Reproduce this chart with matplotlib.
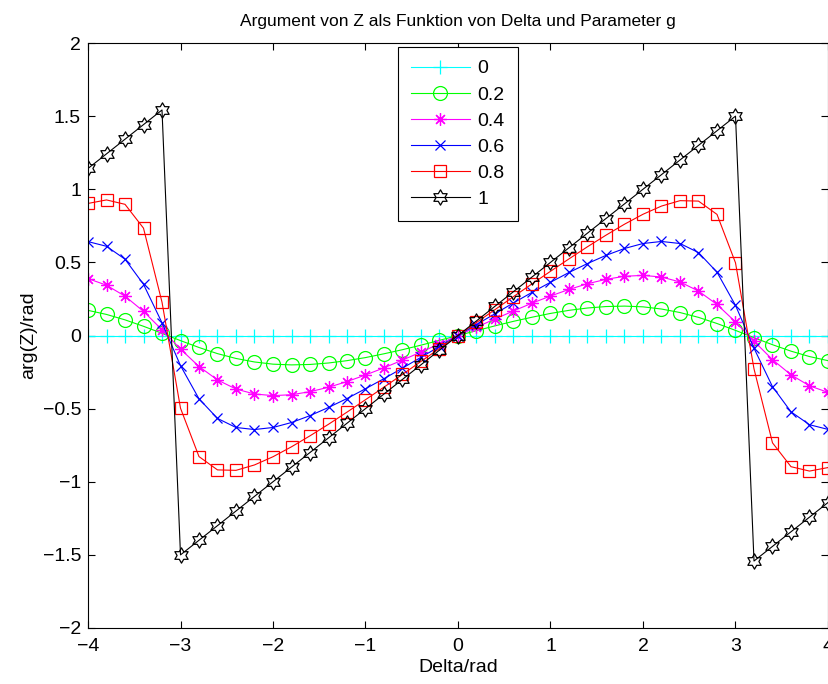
import numpy as np
import matplotlib
matplotlib.use("Agg")
import matplotlib.pyplot as plt
from matplotlib.path import Path

plt.rcParams['font.family'] = ['Liberation Sans', 'DejaVu Sans']

delta = [-4.0, -3.8, -3.6, -3.4, -3.2, -3.0, -2.8, -2.6, -2.4, -2.2, -2.0,
         -1.8, -1.6, -1.4, -1.2, -1.0, -0.8, -0.6, -0.4, -0.2, 0.0,
         0.2, 0.4, 0.6, 0.8, 1.0, 1.2, 1.4, 1.6, 1.8, 2.0,
         2.2, 2.4, 2.6, 2.8, 3.0, 3.2, 3.4, 3.6, 3.8, 4.0]

g_labels = ['0', '0.2', '0.4', '0.6', '0.8', '1']

arg_g00 = [0.0] * 41

arg_g02 = [0.172, 0.144, 0.107, 0.063, 0.015, -0.035, -0.082, -0.124, -0.157, -0.181, -0.196,
           -0.201, -0.198, -0.188, -0.172, -0.151, -0.125, -0.097, -0.066, -0.033, 0.000,
           0.033, 0.066, 0.097, 0.125, 0.151, 0.172, 0.188, 0.198, 0.201, 0.196,
           0.181, 0.157, 0.124, 0.082, 0.035, -0.015, -0.063, -0.107, -0.144, -0.172]

arg_g04 = [0.389, 0.344, 0.269, 0.165, 0.039, -0.093, -0.212, -0.304, -0.366, -0.400, -0.411,
           -0.405, -0.384, -0.354, -0.315, -0.270, -0.221, -0.168, -0.113, -0.057, 0.000,
           0.057, 0.113, 0.168, 0.221, 0.270, 0.315, 0.354, 0.384, 0.405, 0.411,
           0.400, 0.366, 0.304, 0.212, 0.093, -0.039, -0.165, -0.269, -0.344, -0.389]

arg_g06 = [0.642, 0.610, 0.522, 0.350, 0.087, -0.206, -0.433, -0.567, -0.629, -0.643, -0.629,
           -0.595, -0.548, -0.492, -0.431, -0.364, -0.295, -0.223, -0.149, -0.075, 0.000,
           0.075, 0.149, 0.223, 0.295, 0.364, 0.431, 0.492, 0.548, 0.595, 0.629,
           0.643, 0.629, 0.567, 0.433, 0.206, -0.087, -0.350, -0.522, -0.610, -0.642]

arg_g08 = [0.903, 0.927, 0.897, 0.734, 0.228, -0.497, -0.828, -0.919, -0.922, -0.885, -0.829,
           -0.761, -0.686, -0.607, -0.524, -0.439, -0.353, -0.266, -0.177, -0.089, 0.000,
           0.089, 0.177, 0.266, 0.353, 0.439, 0.524, 0.607, 0.686, 0.761, 0.829,
           0.885, 0.922, 0.919, 0.828, 0.497, -0.228, -0.734, -0.897, -0.927, -0.903]

arg_g10 = [1.142, 1.242, 1.342, 1.442, 1.542, -1.500, -1.400, -1.300, -1.200, -1.100, -1.000,
           -0.900, -0.800, -0.700, -0.600, -0.500, -0.400, -0.300, -0.200, -0.100, 0.000,
           0.100, 0.200, 0.300, 0.400, 0.500, 0.600, 0.700, 0.800, 0.900, 1.000,
           1.100, 1.200, 1.300, 1.400, 1.500, -1.542, -1.442, -1.342, -1.242, -1.142]

series = [arg_g00, arg_g02, arg_g04, arg_g06, arg_g08, arg_g10]

# hexagram marker
verts = []
for k in range(12):
    ang = np.deg2rad(90 + 30 * k)
    r = 1.0 if k % 2 == 0 else 1.0 / np.sqrt(3)
    verts.append((r * np.cos(ang), r * np.sin(ang)))
verts.append(verts[0])
hexagram = Path(verts, closed=True)

styles = [
    dict(color=(0, 1, 1), marker='+', ms=10, mew=0.9),
    dict(color=(0, 1, 0), marker='o', ms=10, mew=0.9, mfc='none'),
    dict(color=(1, 0, 1), marker=(8, 2, 0), ms=9, mew=0.9),
    dict(color=(0, 0, 1), marker='x', ms=7.5, mew=0.9),
    dict(color=(1, 0, 0), marker='s', ms=8, mew=0.9, mfc='none'),
    dict(color=(0, 0, 0), marker=hexagram, ms=11, mew=0.9, mfc='none'),
]

fig = plt.figure(figsize=(8.29, 6.84), dpi=100)
ax = fig.add_axes([88 / 829, 1 - 628 / 684, 740 / 829, 585 / 684])

for vals, lab, st in zip(series, g_labels, styles):
    ax.plot(delta, vals, lw=0.8, label=lab, **st)

ax.set_xlim(-4, 4)
ax.set_ylim(-2, 2)
ax.set_xticks(np.arange(-4, 5, 1))
ax.set_yticks(np.arange(-2, 2.01, 0.5))
ax.set_yticklabels(['\u22122', '\u22121.5', '\u22121', '\u22120.5', '0', '0.5', '1', '1.5', '2'])
ax.tick_params(direction='in', top=True, right=True, length=5, width=0.8,
               labelsize=14)
ax.tick_params(axis='x', pad=7)
ax.tick_params(axis='y', pad=5)
for sp in ax.spines.values():
    sp.set_linewidth(0.8)

ax.set_title('Argument von Z als Funktion von Delta und Parameter g', fontsize=12.5, pad=12)
ax.set_xlabel('Delta/rad', fontsize=14, labelpad=3)
ax.set_ylabel('arg(Z)/rad', fontsize=14, labelpad=4)

leg = ax.legend(loc='upper center', bbox_to_anchor=(0.5, 1 - 4 / 585), borderaxespad=0,
                fontsize=14, handlelength=3.0, labelspacing=0.44, borderpad=0.66,
                fancybox=False, framealpha=1, edgecolor='black', handletextpad=0.4)
leg.get_frame().set_linewidth(0.8)

fig.savefig('out.png', dpi=100)
